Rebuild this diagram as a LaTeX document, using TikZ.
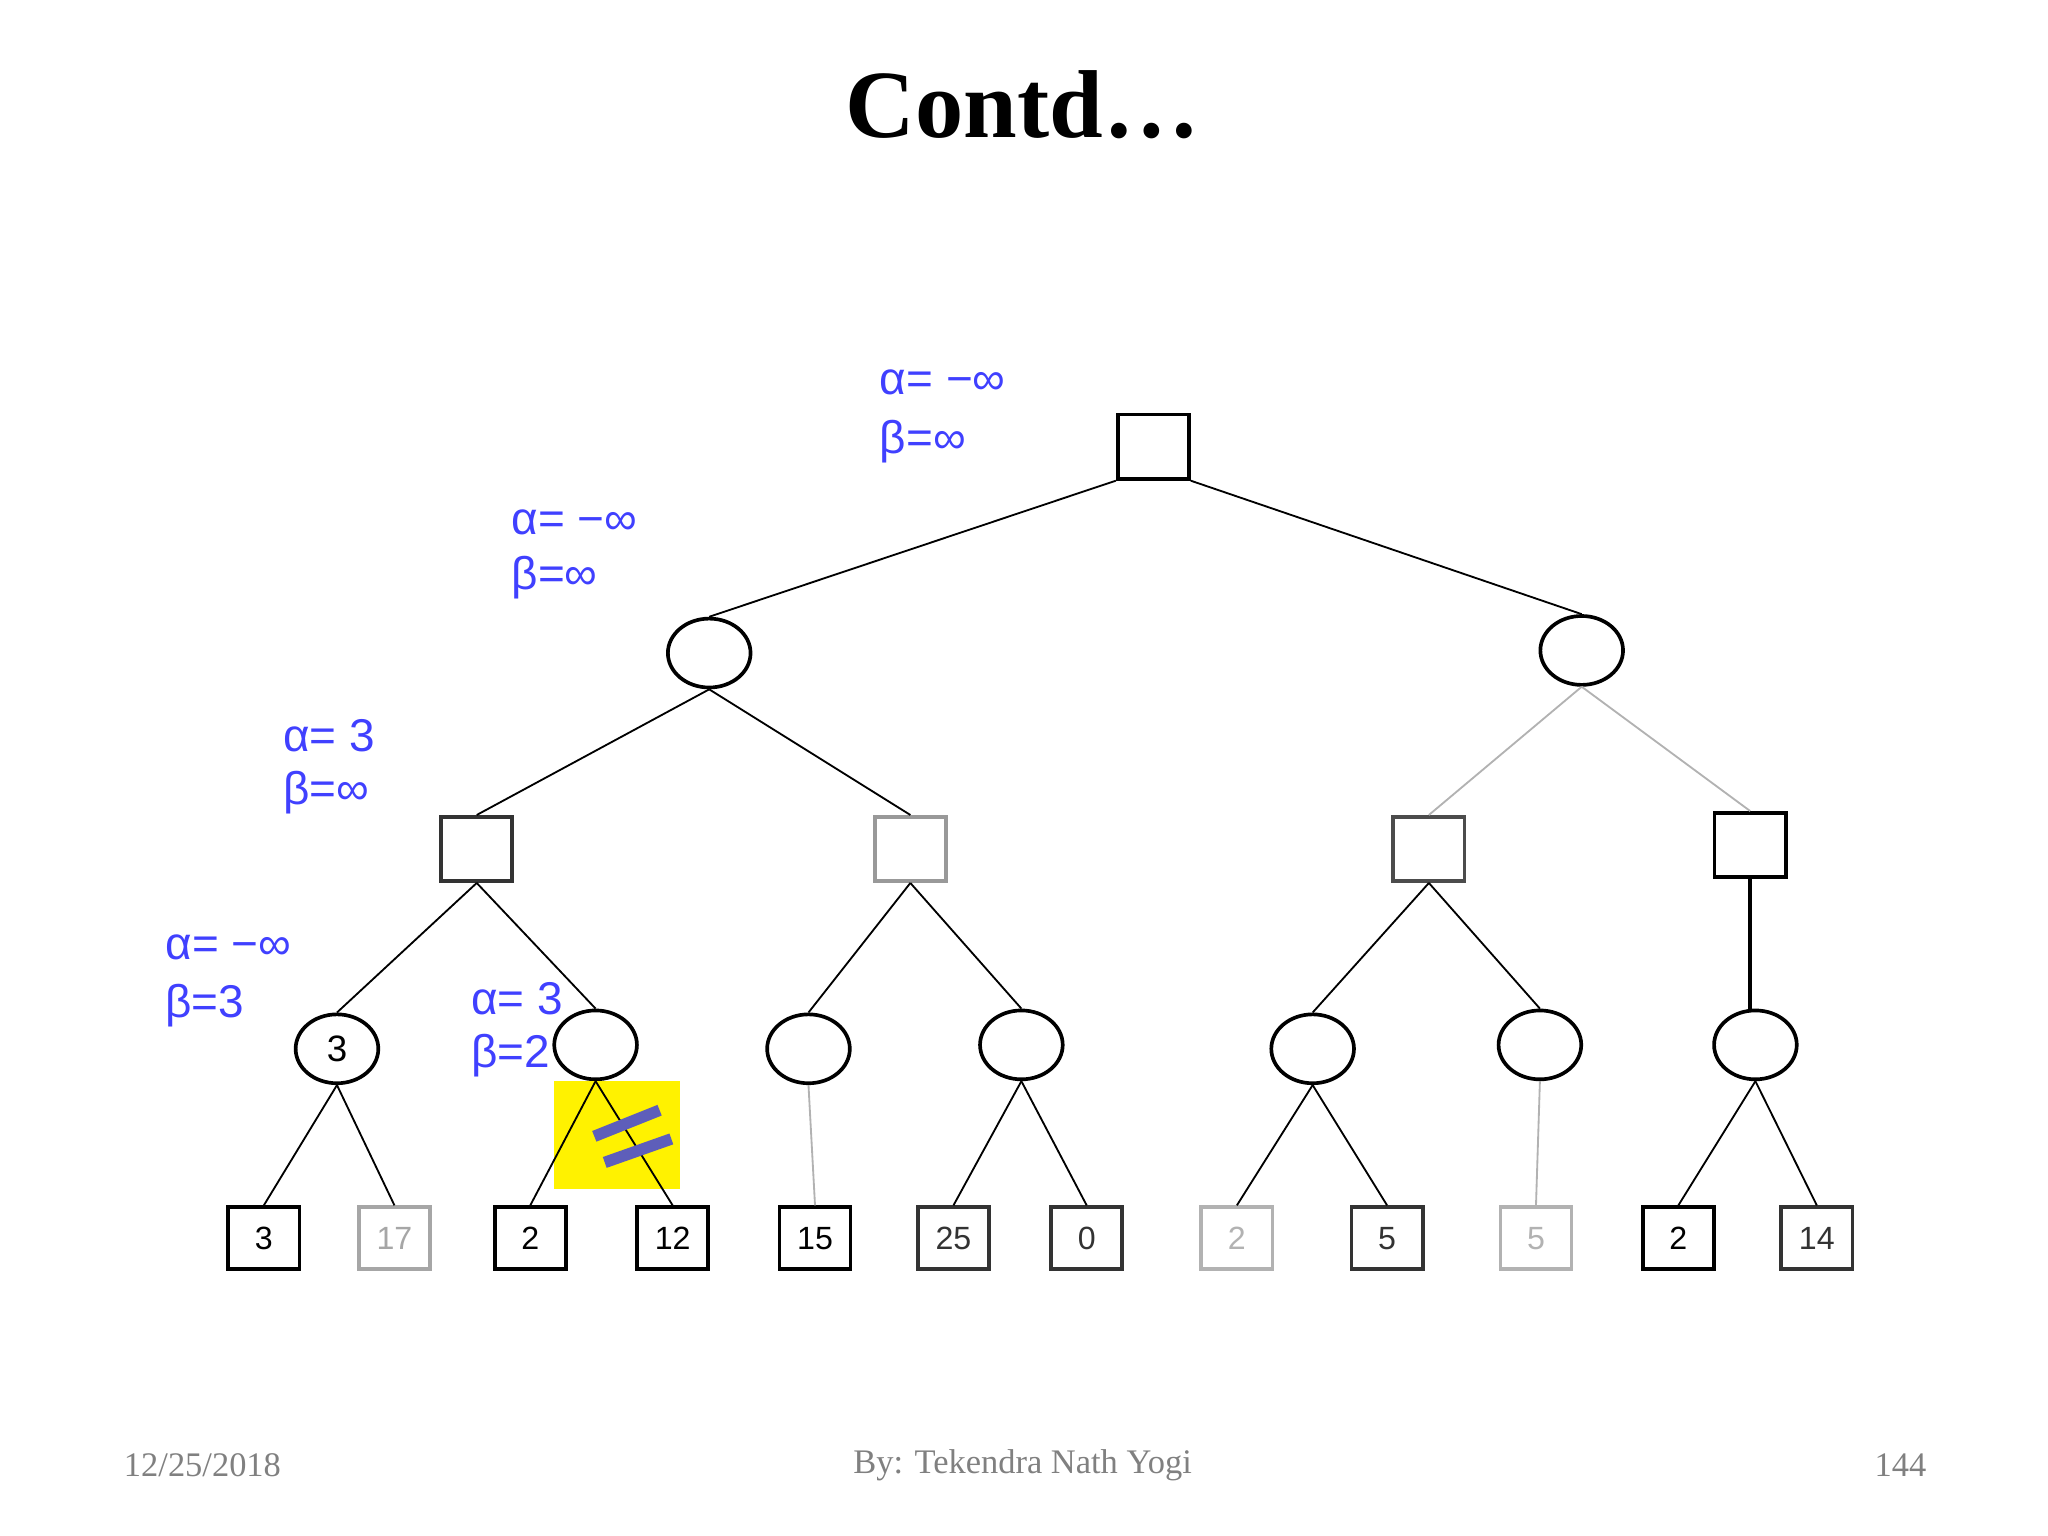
\documentclass[tikz,border=0pt]{standalone}
\usepackage{fontspec}
\setmainfont{Liberation Serif}
\newfontfamily\lab{Liberation Sans}
\usetikzlibrary{shapes.geometric}
\begin{document}
\begin{tikzpicture}[x=0.01cm,y=-0.01cm,
 sq/.style={draw,thick,minimum width=15.5pt,minimum height=14pt,inner sep=0pt},
 leaf/.style={draw,thick,minimum width=15.5pt,minimum height=13.5pt,inner sep=0pt,font=\lab\fontsize{7}{8}\selectfont},
 cir/.style={draw,thick,ellipse,minimum width=18pt,minimum height=15pt,inner sep=0pt,font=\lab\fontsize{8}{9}\selectfont},
 ed/.style={thin,black},
 ged/.style={thin,gray!60},
 ab/.style={anchor=west,text=blue!75!white,font=\lab\fontsize{10}{12}\selectfont,inner sep=0pt}]
\useasboundingbox (0,0) rectangle (1568,1176);
\node[font=\bfseries\fontsize{21}{24}\selectfont] (t) at (783,80) {Contd…};
\node[sq] (r) at (883,342) {};
\node[cir] (a) at (543,500) {};
\node[cir] (b) at (1211,498) {};
\node[sq,draw=black!80] (c1) at (365,650) {};
\node[sq,draw=gray!80] (c2) at (697,650) {};
\node[sq,draw=black!70] (c3) at (1094,650) {};
\node[sq] (c4) at (1340,647) {};
\node[cir] (d1) at (258,803) {3};
\node[cir] (d2) at (456,800) {};
\node[cir] (d3) at (619,803) {};
\node[cir] (d4) at (782,800) {};
\node[cir] (d5) at (1005,803) {};
\node[cir] (d6) at (1179,800) {};
\node[cir] (d7) at (1344,800) {};
\foreach \n/\x/\t/\c in {l1/202/3/black,l2/302/17/gray!70,l3/406/2/black,l4/515/12/black,l5/624/15/black,l6/730/25/black!80,l7/832/0/black!80,l8/947/2/gray!60,l9/1062/5/black!80,l10/1176/5/gray!60,l11/1285/2/black,l12/1391/14/black!80}
  \node[leaf,draw=\c,text=\c] (\n) at (\x,948) {\t};
\draw[ed] (r.south west) -- (a.north);
\draw[ed] (r.south east) -- (b.north);
\draw[ed] (a.south) -- (c1.north); \draw[ed] (a.south) -- (c2.north);
\draw[ged] (b.south) -- (c3.north); \draw[ged] (b.south) -- (c4.north);
\draw[ed] (c1.south) -- (d1.north); \draw[ed] (c1.south) -- (d2.north);
\draw[ed] (c2.south) -- (d3.north); \draw[ed] (c2.south) -- (d4.north);
\draw[ed] (c3.south) -- (d5.north); \draw[ed] (c3.south) -- (d6.north);
\draw[thick] (c4.south) -- (c4.south |- d7.north);
\draw[ed] (d1.south) -- (l1.north); \draw[ed] (d1.south) -- (l2.north);
\draw[ged] (d3.south) -- (l5.north);
\draw[ed] (d4.south) -- (l6.north); \draw[ed] (d4.south) -- (l7.north);
\draw[ed] (d5.south) -- (l8.north); \draw[ed] (d5.south) -- (l9.north);
\draw[ged] (d6.south) -- (l10.north);
\draw[ed] (d7.south) -- (l11.north); \draw[ed] (d7.south) -- (l12.north);
\fill[yellow] (424,828) rectangle (521,910);
\draw[ed] (d2.south) -- (l3.north); \draw[ed] (d2.south) -- (l4.north);
\draw[line width=2.5pt,blue!40!gray!90] (455,870) -- (505,850);
\draw[line width=2.5pt,blue!40!gray!90] (463,890) -- (514,872);
\node[ab] (n1) at (673,293) {α= −∞};
\node[ab] (n2) at (673,338) {β=∞};
\node[ab] (n3) at (391,400) {α= −∞};
\node[ab] (n4) at (391,442) {β=∞};
\node[ab] (n5) at (216,563) {α= 3};
\node[ab] (n6) at (216,607) {β=∞};
\node[ab] (n7) at (126,725) {α= −∞};
\node[ab] (n8) at (126,770) {β=3};
\node[ab] (n9) at (360,765) {α= 3};
\node[ab] (n10) at (360,808) {β=2};
\node[text=gray,font=\fontsize{7.5}{9}\selectfont] (f1) at (155,1122) {12/25/2018};
\node[text=gray,font=\fontsize{7.5}{9}\selectfont] (f2) at (783,1122) {By: Tekendra Nath Yogi};
\node[text=gray,font=\fontsize{7.5}{9}\selectfont] (f3) at (1455,1122) {144};
\end{tikzpicture}
\end{document}
